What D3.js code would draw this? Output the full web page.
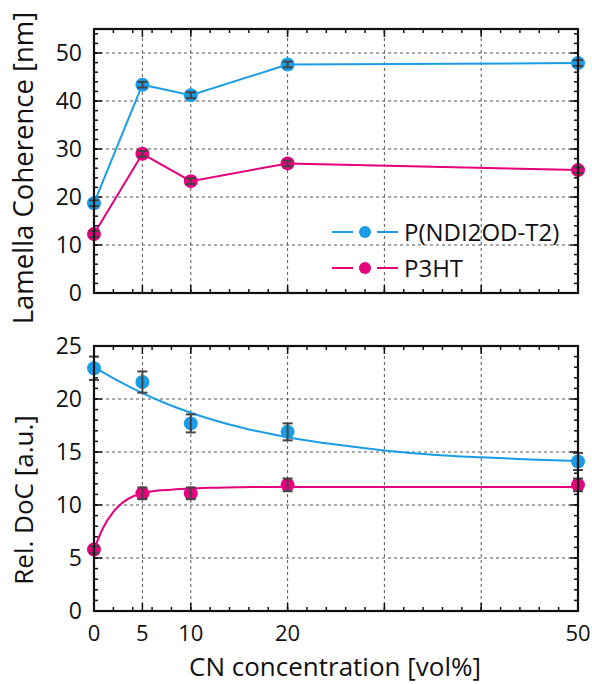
<html>
  <head>
    <meta charset="utf-8" />
    <title>Lamella coherence and DoC</title>
    <style>
      body { margin: 0; background: #fff; }
      text { font-family: "Open Sans", Lato, sans-serif; fill: #111; }
    </style>
  </head>
  <body>
    <script src="https://cdn.jsdelivr.net/npm/d3@7/dist/d3.min.js" charset="utf-8"></script>
    <script>
      const width = 592;
      const height = 684;

      // data
      const cnConc = [0, 5, 10, 20, 50];
      const seriesNames = ["P(NDI2OD-T2)", "P3HT"];
      const cohNDI = [18.7, 43.4, 41.2, 47.6, 47.9];
      const cohNDIErr = [0.6, 0.6, 0.6, 0.6, 0.6];
      const cohP3HT = [12.3, 29.0, 23.3, 27.0, 25.6];
      const cohP3HTErr = [0.6, 0.6, 0.6, 0.6, 0.6];
      const docNDI = [22.9, 21.6, 17.7, 16.9, 14.1];
      const docNDIErr = [1.1, 1.0, 0.85, 0.8, 0.8];
      const docP3HT = [5.8, 11.1, 11.1, 11.9, 11.9];
      const docP3HTErr = [0.3, 0.55, 0.55, 0.6, 0.6];
      // fitted curves (traced)
      const fitNDIx = [0, 2.5, 5, 7.5, 10, 15, 20, 25, 30, 35, 40, 45, 50];
      const fitNDIy = [23.0, 21.7, 20.55, 19.55, 18.7, 17.35, 16.4, 15.7, 15.15, 14.75, 14.5, 14.3, 14.15];
      const fitP3HTx = [0, 1, 2, 3, 4, 5, 6, 8, 10, 12, 15, 20, 50];
      const fitP3HTy = [5.8, 7.95, 9.35, 10.25, 10.8, 11.1, 11.3, 11.45, 11.55, 11.62, 11.68, 11.7, 11.7];
      const xTickLabels = [0, 5, 10, 20, 50];

      const blue = "#1a9de6";
      const pink = "#e5007d";
      const errColor = "#444";

      const svg = d3.select("body").append("svg")
        .attr("width", width).attr("height", height);

      const x = d3.scaleLinear().domain([0, 50]).range([94, 578]);
      const yTop = d3.scaleLinear().domain([0, 55]).range([293, 29]);
      const yBot = d3.scaleLinear().domain([0, 25]).range([611, 346]);

      function drawPanel(y, yMajor, yMinorStep, yMax) {
        const g = svg.append("g");
        const [y0, y1] = y.range();
        // grid
        g.selectAll(".hg").data(yMajor.filter(v => v > 0 && v < yMax)).join("line")
          .attr("x1", x(0)).attr("x2", x(50))
          .attr("y1", d => y(d)).attr("y2", d => y(d))
          .attr("stroke", "#555").attr("stroke-width", 1).attr("stroke-dasharray", "3,3");
        g.selectAll(".vg").data([5, 10, 20, 30, 40]).join("line")
          .attr("x1", d => x(d)).attr("x2", d => x(d))
          .attr("y1", y0).attr("y2", y1)
          .attr("stroke", "#555").attr("stroke-width", 1).attr("stroke-dasharray", "3,3");

        // ticks inward on all four sides
        const xMinor = d3.range(0, 51, 2);
        const xMajor = [0, 5, 10, 20, 30, 40, 50];
        const yMinor = d3.range(0, yMax + 0.01, yMinorStep);
        const tk = svg.append("g").attr("stroke", "#111").attr("stroke-width", 1.5);
        [[xMinor, 4], [xMajor, 8]].forEach(([vals, len]) => {
          tk.selectAll(null).data(vals).join("line")
            .attr("x1", d => x(d)).attr("x2", d => x(d))
            .attr("y1", y0).attr("y2", y0 - len);
          tk.selectAll(null).data(vals).join("line")
            .attr("x1", d => x(d)).attr("x2", d => x(d))
            .attr("y1", y1).attr("y2", y1 + len);
        });
        [[yMinor, 4], [yMajor, 8]].forEach(([vals, len]) => {
          tk.selectAll(null).data(vals).join("line")
            .attr("y1", d => y(d)).attr("y2", d => y(d))
            .attr("x1", x(0)).attr("x2", x(0) + len);
          tk.selectAll(null).data(vals).join("line")
            .attr("y1", d => y(d)).attr("y2", d => y(d))
            .attr("x1", x(50)).attr("x2", x(50) - len);
        });

        // y tick labels
        svg.append("g").selectAll("text").data(yMajor).join("text")
          .attr("x", x(0) - 12).attr("y", d => y(d)).attr("dy", "0.36em")
          .attr("text-anchor", "end").attr("font-size", 23)
          .text(d => d);
        return g;
      }

      function frame(y) {
        const [y0, y1] = y.range();
        svg.append("rect")
          .attr("x", x(0)).attr("y", y1)
          .attr("width", x(50) - x(0)).attr("height", y0 - y1)
          .attr("fill", "none").attr("stroke", "#111").attr("stroke-width", 2.2);
      }

      function points(y, vals, errs, color, r) {
        const g = svg.append("g");
        g.selectAll("circle").data(vals).join("circle")
          .attr("cx", (d, i) => x(cnConc[i])).attr("cy", d => y(d))
          .attr("r", r).attr("fill", color);
        const e = svg.append("g").attr("stroke", errColor).attr("stroke-width", 2);
        vals.forEach((v, i) => {
          const cx = x(cnConc[i]);
          e.append("line").attr("x1", cx).attr("x2", cx)
            .attr("y1", y(v - errs[i])).attr("y2", y(v + errs[i]));
          [v - errs[i], v + errs[i]].forEach(c => {
            e.append("line").attr("x1", cx - 5).attr("x2", cx + 5)
              .attr("y1", y(c)).attr("y2", y(c));
          });
        });
      }

      // ---- top panel ----
      drawPanel(yTop, [0, 10, 20, 30, 40, 50], 2, 55);
      const line = d3.line().x(d => x(d[0])).y(d => yTop(d[1]));
      [[cohNDI, blue], [cohP3HT, pink]].forEach(([vals, c]) => {
        svg.append("path").datum(vals.map((v, i) => [cnConc[i], v]))
          .attr("d", line).attr("fill", "none").attr("stroke", c).attr("stroke-width", 2);
      });
      points(yTop, cohNDI, cohNDIErr, blue, 7);
      points(yTop, cohP3HT, cohP3HTErr, pink, 7);
      frame(yTop);

      // legend
      const legend = svg.append("g");
      [[seriesNames[0], blue, 232], [seriesNames[1], pink, 268]].forEach(([name, c, ly]) => {
        legend.append("line").attr("x1", 332).attr("x2", 353).attr("y1", ly).attr("y2", ly)
          .attr("stroke", c).attr("stroke-width", 2);
        legend.append("line").attr("x1", 377).attr("x2", 398).attr("y1", ly).attr("y2", ly)
          .attr("stroke", c).attr("stroke-width", 2);
        legend.append("circle").attr("cx", 365).attr("cy", ly).attr("r", 6).attr("fill", c);
        legend.append("text").attr("x", 404).attr("y", ly).attr("dy", "0.36em")
          .attr("font-size", 24).text(name);
      });

      // ---- bottom panel ----
      drawPanel(yBot, [0, 5, 10, 15, 20, 25], 1, 25);
      const fitLine = d3.line().curve(d3.curveMonotoneX).x(d => x(d[0])).y(d => yBot(d[1]));
      [[fitNDIx, fitNDIy, blue], [fitP3HTx, fitP3HTy, pink]].forEach(([fx, fy, c]) => {
        svg.append("path").datum(fx.map((v, i) => [v, fy[i]]))
          .attr("d", fitLine).attr("fill", "none").attr("stroke", c).attr("stroke-width", 2);
      });
      points(yBot, docNDI, docNDIErr, blue, 7);
      points(yBot, docP3HT, docP3HTErr, pink, 7);
      frame(yBot);

      // x tick labels
      svg.append("g").selectAll("text").data(xTickLabels).join("text")
        .attr("x", d => x(d)).attr("y", 641)
        .attr("text-anchor", "middle").attr("font-size", 22)
        .text(d => d);

      // axis titles
      svg.append("text").attr("x", 335).attr("y", 676)
        .attr("text-anchor", "middle").attr("font-size", 26)
        .text("CN concentration [vol%]");
      svg.append("text").attr("transform", "translate(33,168) rotate(-90)")
        .attr("text-anchor", "middle").attr("font-size", 27.5)
        .text("Lamella Coherence [nm]");
      svg.append("text").attr("transform", "translate(33,500) rotate(-90)")
        .attr("text-anchor", "middle").attr("font-size", 26)
        .text("Rel. DoC [a.u.]");
    </script>
  </body>
</html>
